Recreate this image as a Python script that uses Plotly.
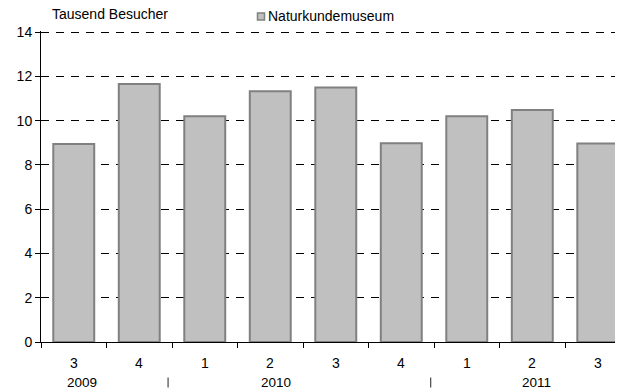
import plotly.graph_objects as go

quarters = ["3", "4", "1", "2", "3", "4", "1", "2", "3"]
values = [8.94, 11.65, 10.2, 11.33, 11.5, 8.98, 10.2, 10.48, 8.97]
years = ["2009", "2010", "2011"]
year_pos = [0.13, 3.09, 7.07]
sep_pos = [1.44, 5.45]
series_name = "Naturkundemuseum"
y_title = "Tausend Besucher"

x = list(range(len(values)))
font = "Liberation Sans, Arial, sans-serif"
FS = 14

# the page body has an 8px default margin; lay out in page pixels and compensate
OFF = 8
W, H = 623, 389
L, T = 41 - OFF, 31 - OFF
R = OFF
B = H - (342 - OFF)
PW, PH = W - L - R, H - T - B
XR = [-0.5, 8.385]
YR = [0, 14.05]


def px_x(px):
    return (px - OFF - L) / PW


def px_y(py):
    return 1 - (py - OFF - T) / PH


def data_to_paper_x(v):
    return (v - XR[0]) / (XR[1] - XR[0])


fig = go.Figure()
fig.add_trace(go.Bar(
    x=x, y=values, name=series_name, width=0.625,
    marker=dict(color="#c0c0c0", line=dict(color="#808080", width=2)),
    showlegend=False,
))

ann = []
for i, q in enumerate(quarters):
    ann.append(dict(x=i, y=0, xref="x", yref="y", text=q, showarrow=False,
                    yanchor="middle", yshift=-20.5, font=dict(size=FS, color="black")))
for yv, p in zip(years, year_pos):
    ann.append(dict(x=p, y=0, xref="x", yref="y", text=yv, showarrow=False,
                    yanchor="middle", yshift=-40.5, font=dict(size=FS - 0.5, color="black")))
ann.append(dict(x=px_x(50), y=px_y(14.5), xref="paper", yref="paper", text=y_title,
                showarrow=False, xanchor="left", yanchor="middle",
                font=dict(size=FS, color="black")))
ann.append(dict(x=px_x(266), y=px_y(16.5), xref="paper", yref="paper", text=series_name,
                showarrow=False, xanchor="left", yanchor="middle",
                font=dict(size=FS, color="black")))

shapes = [dict(type="rect", xref="paper", yref="paper",
               x0=px_x(257.5), x1=px_x(264.5), y0=px_y(20), y1=px_y(13),
               fillcolor="#c0c0c0", line=dict(color="#808080", width=1.5))]
for p in sep_pos:
    xp = data_to_paper_x(p)
    shapes.append(dict(type="line", xref="paper", yref="paper",
                       x0=xp, x1=xp, y0=px_y(377.5), y1=px_y(387.5),
                       line=dict(color="#222222", width=1)))

fig.update_layout(
    width=W, height=H,
    margin=dict(l=L, r=R, t=T, b=B, autoexpand=False),
    paper_bgcolor="white", plot_bgcolor="white",
    font=dict(family=font, size=FS, color="black"),
    showlegend=False,
    annotations=ann,
    shapes=shapes,
    xaxis=dict(range=XR, tickmode="array",
               tickvals=[i - 0.5 for i in range(len(values) + 1)],
               ticktext=[""] * (len(values) + 1),
               ticks="outside", ticklen=5, tickcolor="black",
               showline=True, linecolor="black", linewidth=1,
               showgrid=False, zeroline=False, automargin=False),
    yaxis=dict(range=YR, tickmode="array", tickvals=[0, 2, 4, 6, 8, 10, 12, 14],
               ticks="outside", ticklen=5, tickcolor="black",
               showline=True, linecolor="black", linewidth=1,
               showgrid=True, gridcolor="black", griddash="8px,7px", gridwidth=1,
               zeroline=False, automargin=False, tickfont=dict(size=FS)),
)

fig.write_html("out.html")
